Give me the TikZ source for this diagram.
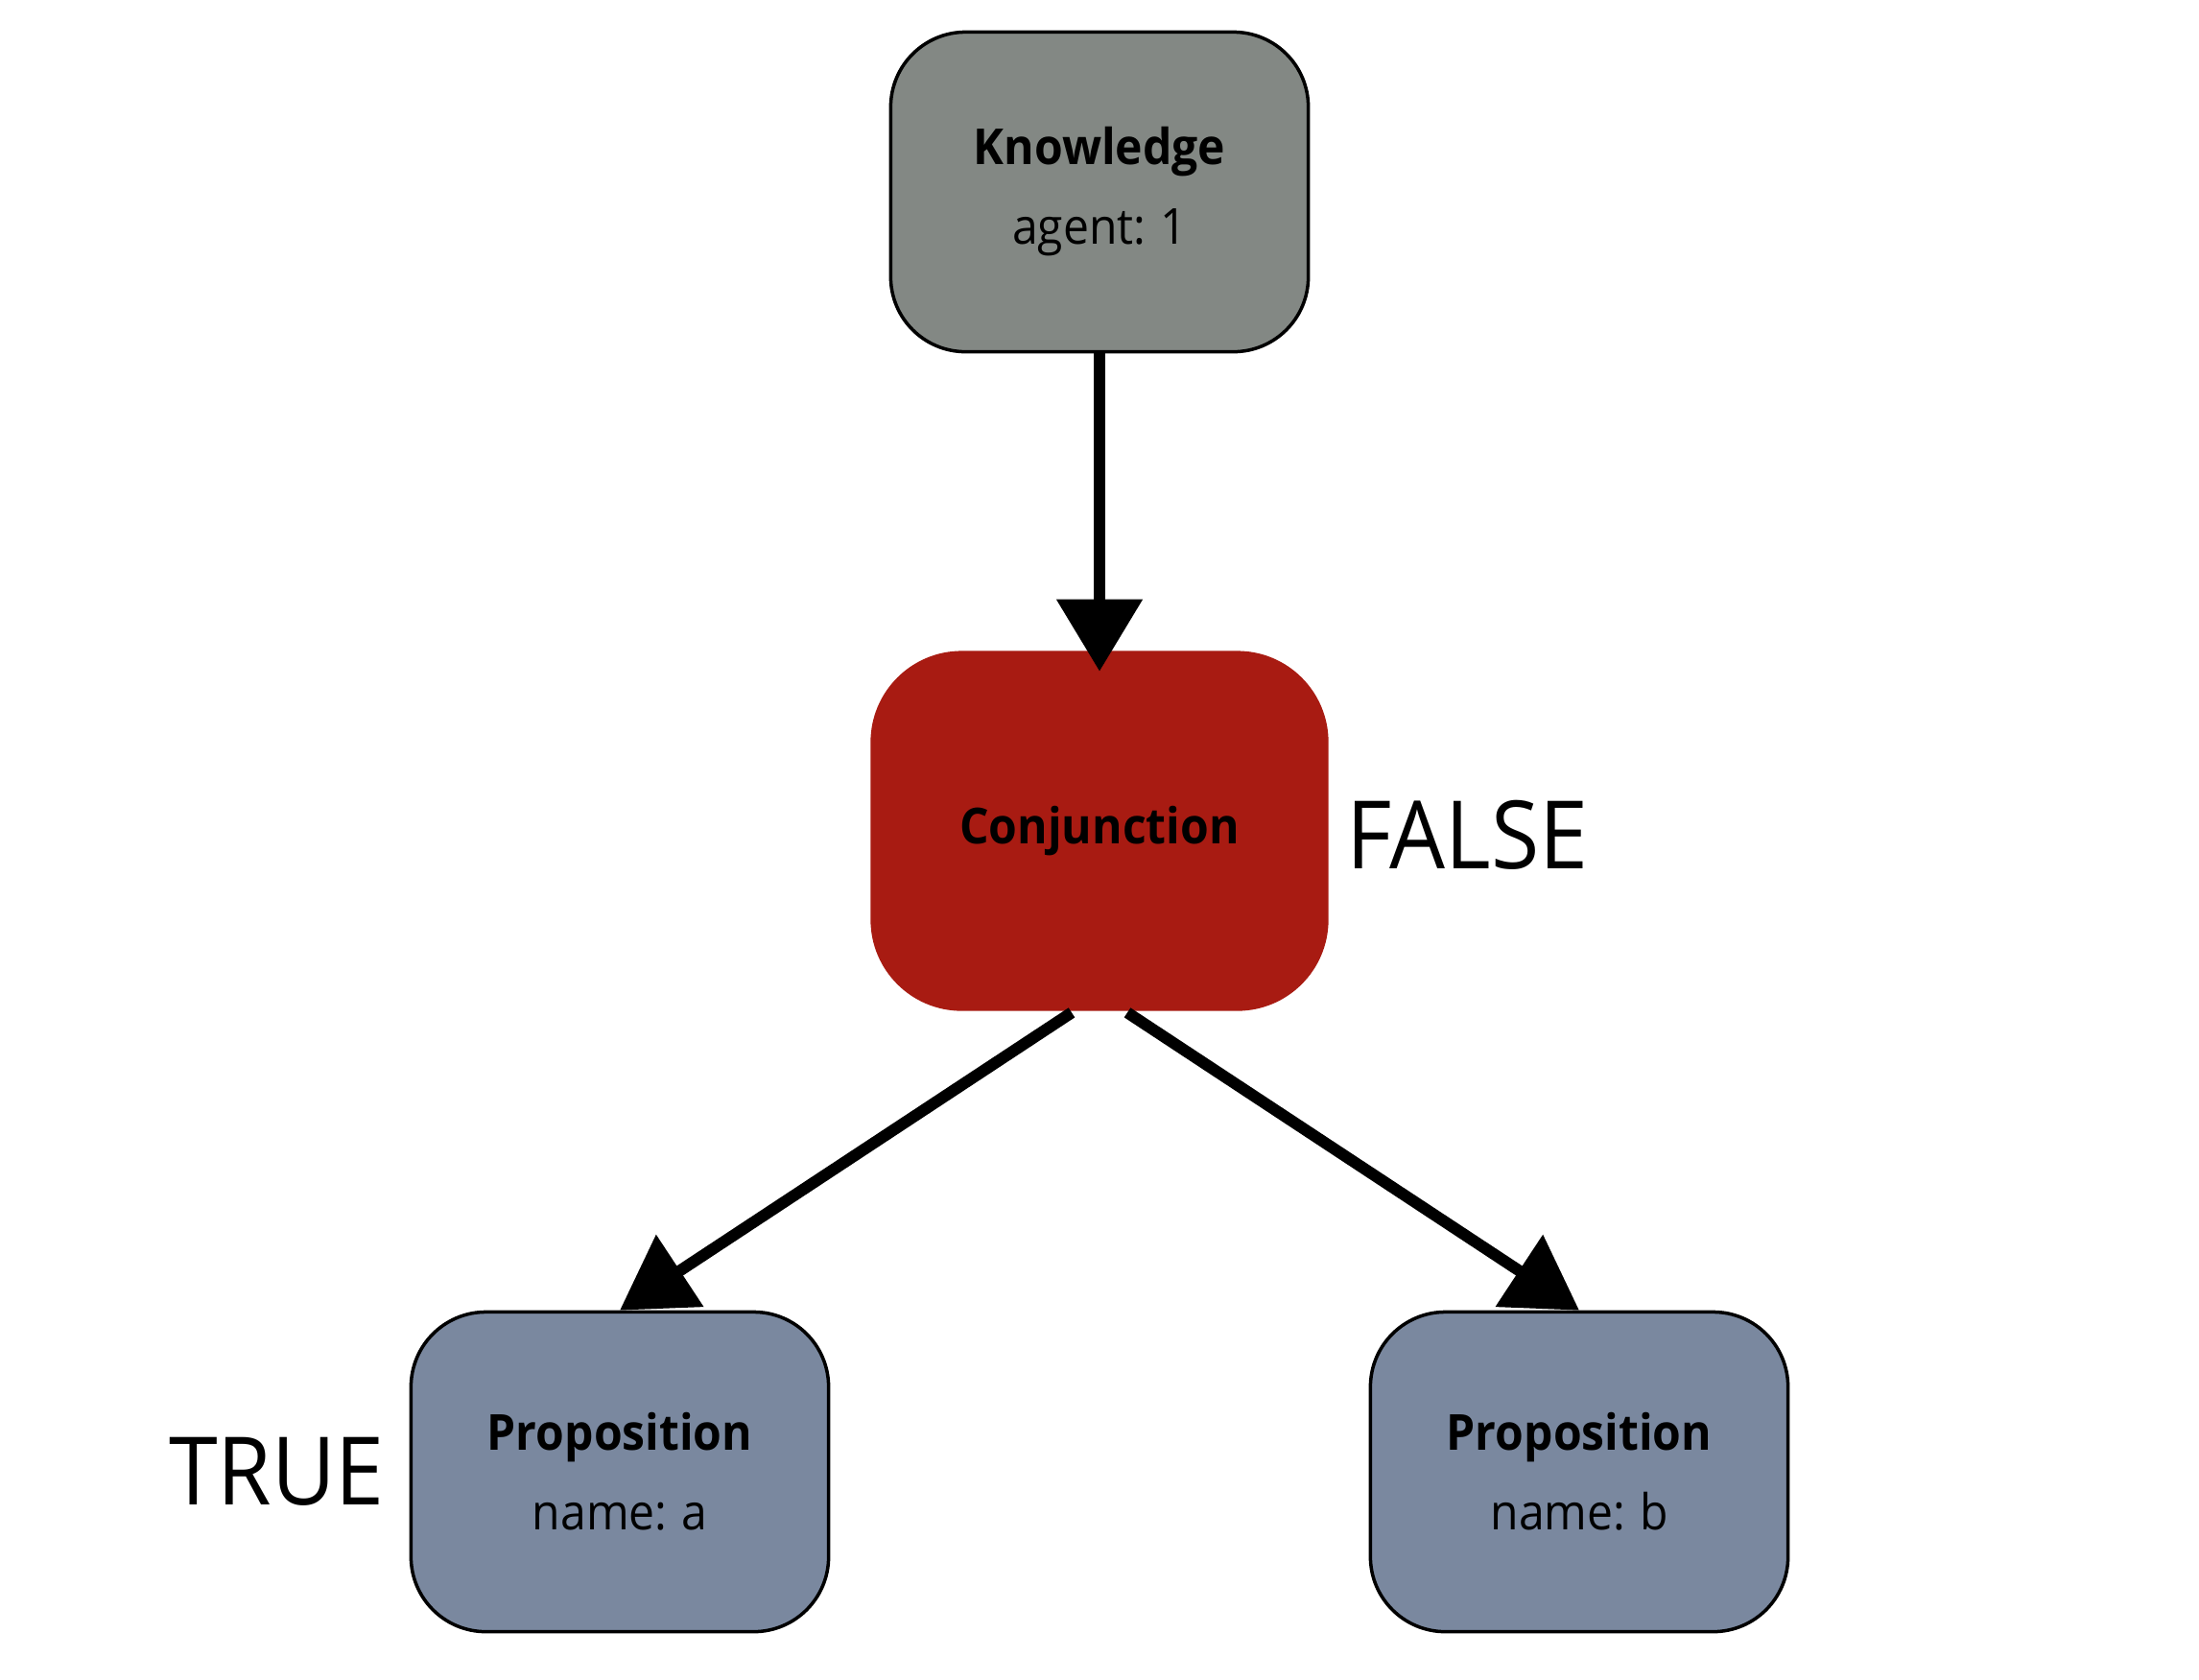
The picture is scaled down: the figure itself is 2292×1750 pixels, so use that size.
\documentclass[tikz,border=0pt]{standalone}
\usepackage{fontspec}
\setmainfont{Open Sans}[FakeStretch=0.93,WordSpace=0.85]
\usetikzlibrary{shapes,arrows.meta,positioning}
\definecolor{knowgray}{HTML}{838884}
\definecolor{conjred}{HTML}{A81B12}
\definecolor{propblue}{HTML}{7A889F}
\tikzstyle{box} = [draw=black,line width=0.035cm,rounded corners=0.78cm,inner sep=0,minimum width=4.35cm,minimum height=3.33cm,align=center,font=\fontsize{14.7}{23.6}\selectfont]
\tikzstyle{junction} = [box,draw=none,fill=conjred,rounded corners=0.95cm,minimum width=4.77cm,minimum height=3.75cm]
\tikzstyle{link} = [line width=0.12cm,-{Triangle[length=0.75cm,width=0.87cm]}]
\tikzstyle{verdict} = [inner sep=0,font=\fontsize{28}{34}\selectfont]
\def \lift {0.23cm}

\begin{document}
\begin{tikzpicture}[x=0.01cm,y=-0.01cm]
      \useasboundingbox (0,0) rectangle (2292,1750);
      \node[box,fill=knowgray] (know) at (1146,200) {\textbf{Knowledge}\\agent: 1};
      \node[junction] (conj) at (1146,866) {\textbf{Conjunction}};
      \node[box,fill=propblue] (propa) at (646,1534) {\textbf{Proposition}\\name: a};
      \node[box,fill=propblue] (propb) at (1646,1534) {\textbf{Proposition}\\name: b};
      \node[verdict,right=0.16cm of conj,yshift=-0.04cm] (conjval) {FALSE};
      \node[verdict,left=0.25cm of propa] (propaval) {TRUE};
      \draw[link] (know.south) -- ([yshift=-\lift]conj.north);
      \draw[link] ([xshift=-0.29cm]conj.south) -- (propa.north);
      \draw[link] ([xshift=0.29cm]conj.south) -- (propb.north);
    \end{tikzpicture}
\end{document}
